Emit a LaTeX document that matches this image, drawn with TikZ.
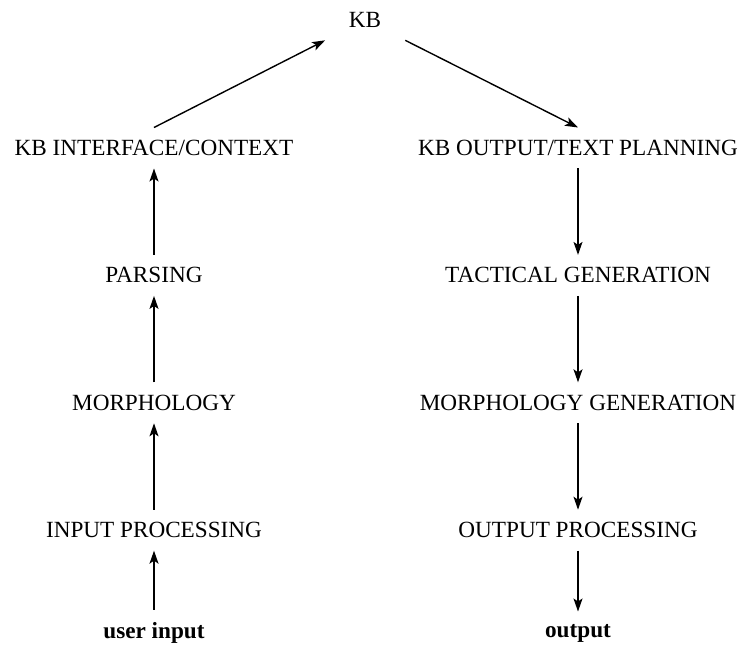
\documentclass[tikz,border=0pt]{standalone}
\usepackage{fontspec}
\setmainfont{Liberation Serif}
\usetikzlibrary{arrows.meta}

\begin{document}
\begin{tikzpicture}[->,>={Stealth[length=6.5pt,width=4.5pt,inset=1.5pt]},node distance=63.7pt,line width=0.7pt,
  every node/.style={inner ysep=6pt,font=\fontsize{11.6}{14}\selectfont}]
\useasboundingbox (0,0) rectangle (369.5pt,-324pt);

\node[minimum width=40pt] (kb) at (182.5pt,-10pt) {KB};

% analysis side
\node (kbif) at (77pt,-74pt) {KB INTERFACE/CONTEXT};
\node (pars) [below of=kbif] {PARSING};
\node (morph) [below of=pars] {MORPHOLOGY};
\node (inproc) [below of=morph] {INPUT PROCESSING};
\node (uin) [below of=inproc,node distance=51.5pt] {\textbf{user input}};

% generation side
\node (kbout) at (289pt,-74pt) {KB OUTPUT/TEXT PLANNING};
\node (tact) [below of=kbout] {TACTICAL GENERATION};
\node (morphgen) [below of=tact] {MORPHOLOGY GENERATION};
\node (outproc) [below of=morphgen] {OUTPUT PROCESSING};
\node (out) [below of=outproc,node distance=51.5pt] {\textbf{output}};

\path (uin) edge (inproc);
\path (inproc) edge (morph);
\path (morph) edge (pars);
\path (pars) edge (kbif);
\path (kbif.north) edge (kb);

\path (kb) edge (kbout.north);
\path (kbout) edge (tact);
\path (tact) edge (morphgen);
\path (morphgen) edge (outproc);
\path (outproc) edge (out);
\end{tikzpicture}
\end{document}
